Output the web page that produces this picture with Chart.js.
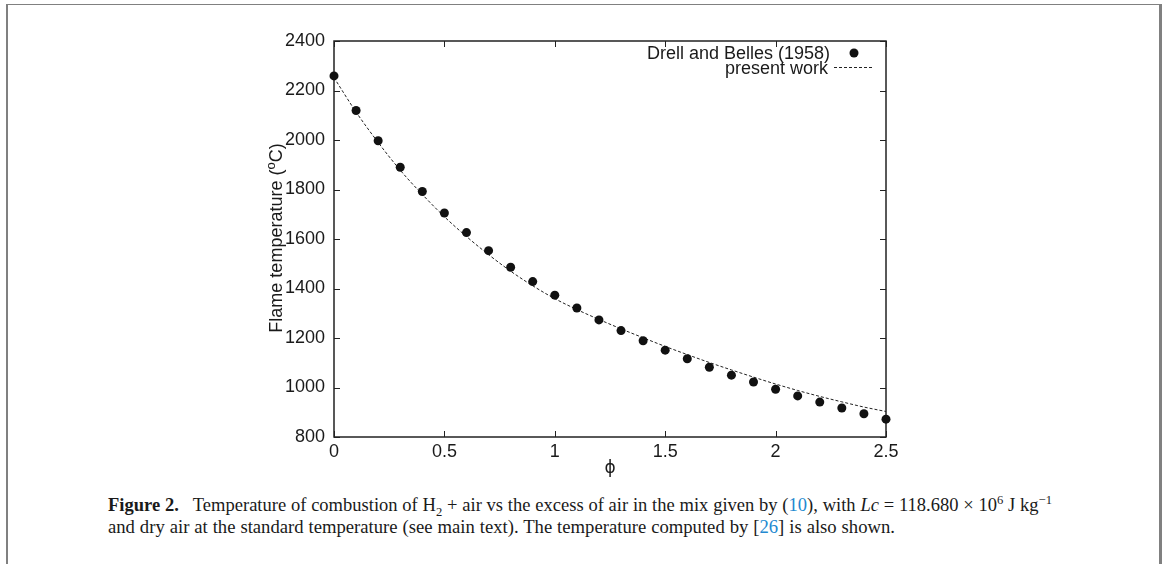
<!DOCTYPE html>
<html>
<head>
<meta charset="utf-8">
<title>Flame temperature vs excess air</title>
<script src="https://cdn.jsdelivr.net/npm/chart.js@4.4.1/dist/chart.umd.min.js"></script>
<style>
  html, body { margin: 0; padding: 0; background: #fff; }
  body { width: 1165px; height: 564px; position: relative; overflow: hidden; }
  #plot { position: absolute; left: 0; top: 0; }
  .rule { position: absolute; background: #808080; }
  .cap {
    position: absolute; left: 108px; white-space: nowrap;
    font-family: 'Liberation Serif', 'Times New Roman', serif; font-size: 16px;
    color: #1a1a1a; line-height: 20px;
  }
  .cap.fit { text-align: justify; text-align-last: justify; }
  .cap sub, .cap sup { font-size: 0.68em; line-height: 0; }
  .cap .ref { color: #2389d0; }
</style>
</head>
<body>
<div class="rule" style="left:6px; top:4px; width:1156px; height:1px;"></div>
<div class="rule" style="left:6px; top:4px; width:2px; height:560px;"></div>
<div class="rule" style="left:1159px; top:4px; width:3px; height:560px;"></div>

<canvas id="plot" width="1165" height="480"></canvas>

<div class="cap" data-width="944" style="top:495px;"><b>Figure 2.</b>&nbsp;&nbsp; Temperature of combustion of H<sub>2</sub> + air vs the excess of air in the mix given by (<span class="ref">10</span>), with <i>Lc</i> = 118.680 × 10<sup>6</sup> J kg<sup>−1</sup></div>
<div class="cap" data-width="787" style="top:517px;">and dry air at the standard temperature (see main text). The temperature computed by [<span class="ref">26</span>] is also shown.</div>

<script>
// Drell and Belles (1958) tabulated flame temperatures
const phiDrell  = [0, 0.1, 0.2, 0.3, 0.4, 0.5, 0.6, 0.7, 0.8, 0.9, 1.0, 1.1, 1.2,
                   1.3, 1.4, 1.5, 1.6, 1.7, 1.8, 1.9, 2.0, 2.1, 2.2, 2.3, 2.4, 2.5];
const tempDrell = [2259, 2119, 1997, 1890, 1792, 1705, 1626, 1553, 1486, 1428, 1373, 1321, 1273,
                   1230, 1189, 1151, 1116, 1082, 1050, 1022, 993, 966, 941, 917, 894, 872];

// present work, eq. (10)
const phiModel  = [0, 0.1, 0.2, 0.3, 0.4, 0.5, 0.6, 0.7, 0.8, 0.9, 1.0, 1.1, 1.2,
                   1.3, 1.4, 1.5, 1.6, 1.7, 1.8, 1.9, 2.0, 2.1, 2.2, 2.3, 2.4, 2.5];
const tempModel = [2252, 2113, 1990, 1878, 1780, 1690, 1610, 1537, 1470, 1411, 1359, 1315, 1275,
                   1237, 1201, 1166, 1133, 1101, 1071, 1042, 1014, 988, 964, 942, 921, 903];

const phiTicks  = [0, 0.5, 1, 1.5, 2, 2.5];
const tempTicks = [800, 1000, 1200, 1400, 1600, 1800, 2000, 2200, 2400];

const INK = '#1a1a1a';
const FONT = "'Liberation Sans', Arial, Helvetica, sans-serif";
const FS = 18;

Chart.defaults.font.family = FONT;
Chart.defaults.font.size = FS;
Chart.defaults.color = INK;

// caption lines: pick the font size that nearly fills each line, then justify
document.querySelectorAll('.cap').forEach(el => {
  const target = +el.dataset.width;
  const natural = el.getBoundingClientRect().width;
  el.style.fontSize = (16 * target / natural * 0.995).toFixed(2) + 'px';
  el.style.width = target + 'px';
  el.classList.add('fit');
});

// box around the plot with inward tick marks on all four sides
const framePlugin = {
  id: 'frame',
  beforeDatasetsDraw(chart) {
    const { ctx, chartArea: a, scales: { x, y } } = chart;
    ctx.save();
    ctx.strokeStyle = '#222';
    ctx.lineWidth = 1.5;
    ctx.strokeRect(a.left, a.top, a.width, a.height);
    ctx.lineWidth = 1;
    ctx.beginPath();
    x.ticks.forEach(t => {
      const px = Math.round(x.getPixelForValue(t.value)) + 0.5;
      ctx.moveTo(px, a.bottom); ctx.lineTo(px, a.bottom - 6);
      ctx.moveTo(px, a.top);    ctx.lineTo(px, a.top + 6);
    });
    y.ticks.forEach(t => {
      const py = Math.round(y.getPixelForValue(t.value)) + 0.5;
      ctx.moveTo(a.left, py);  ctx.lineTo(a.left + 6, py);
      ctx.moveTo(a.right, py); ctx.lineTo(a.right - 6, py);
    });
    ctx.stroke();
    ctx.restore();
  },
  afterDraw(chart) {
    const { ctx, chartArea: a } = chart;
    const [dots, curve] = chart.data.datasets;
    ctx.save();
    ctx.fillStyle = INK;

    // key, top right inside the box
    ctx.font = `${FS}px ${FONT}`;
    ctx.textAlign = 'right';
    ctx.textBaseline = 'alphabetic';
    ctx.fillText(dots.label, a.right - 56, 59);
    ctx.fillText(curve.label, a.right - 58, 73.5);
    ctx.beginPath();
    ctx.arc(a.right - 32, 53, dots.pointRadius, 0, Math.PI * 2);
    ctx.fillStyle = dots.backgroundColor;
    ctx.fill();
    ctx.beginPath();
    ctx.setLineDash(curve.borderDash);
    ctx.strokeStyle = curve.borderColor;
    ctx.lineWidth = curve.borderWidth;
    ctx.moveTo(a.right - 52, 67.5);
    ctx.lineTo(a.right - 14, 67.5);
    ctx.stroke();
    ctx.setLineDash([]);

    // axis titles
    ctx.fillStyle = INK;
    ctx.textAlign = 'center';
    ctx.textBaseline = 'middle';
    ctx.font = `17px 'DejaVu Sans', sans-serif`;
    ctx.fillText('\u03D5', (a.left + a.right) / 2, 469);

    ctx.font = `${FS}px ${FONT}`;
    const pre = 'Flame temperature (', sup = 'o', post = 'C)';
    const supFont = `13px ${FONT}`;
    const wPre = ctx.measureText(pre).width;
    const wPost = ctx.measureText(post).width;
    ctx.font = supFont;
    const wSup = ctx.measureText(sup).width;
    const total = wPre + wSup + wPost;
    ctx.translate(276, (a.top + a.bottom) / 2 - 1);
    ctx.rotate(-Math.PI / 2);
    ctx.textAlign = 'left';
    ctx.textBaseline = 'alphabetic';
    let cx = -total / 2;
    ctx.font = `${FS}px ${FONT}`;
    ctx.fillText(pre, cx, 6);
    cx += wPre;
    ctx.font = supFont;
    ctx.fillText(sup, cx, -1);
    cx += wSup;
    ctx.font = `${FS}px ${FONT}`;
    ctx.fillText(post, cx, 6);
    ctx.restore();
  }
};

new Chart(document.getElementById('plot'), {
  type: 'scatter',
  data: {
    datasets: [
      {
        label: 'Drell and Belles (1958)',
        data: phiDrell.map((p, i) => ({ x: p, y: tempDrell[i] })),
        pointRadius: 4.5,
        pointHoverRadius: 4.5,
        backgroundColor: '#111',
        borderWidth: 0,
        clip: false,
        order: 0,
      },
      {
        type: 'line',
        label: 'present work',
        data: phiModel.map((p, i) => ({ x: p, y: tempModel[i] })),
        borderColor: '#222',
        borderWidth: 1,
        borderDash: [3, 2],
        pointRadius: 0,
        cubicInterpolationMode: 'monotone',
        fill: false,
        order: 1,
      },
    ],
  },
  options: {
    responsive: false,
    animation: false,
    events: [],
    layout: { padding: { left: 264, right: 279, top: 41, bottom: 3 } },
    plugins: { legend: { display: false }, tooltip: { enabled: false } },
    scales: {
      x: {
        type: 'linear',
        min: 0, max: 2.5,
        grid: { display: false, drawTicks: false },
        border: { display: false },
        afterBuildTicks: s => { s.ticks = phiTicks.map(v => ({ value: v })); },
        afterFit: s => { s.height = 40; },
        ticks: { padding: 4, maxRotation: 0, callback: v => String(v) },
      },
      y: {
        type: 'linear',
        min: 800, max: 2400,
        grid: { display: false, drawTicks: false },
        border: { display: false },
        afterBuildTicks: s => { s.ticks = tempTicks.map(v => ({ value: v })); },
        afterFit: s => { s.width = 70; },
        ticks: { padding: 9, callback: v => String(v) },
      },
    },
  },
  plugins: [framePlugin],
});
</script>
</body>
</html>
